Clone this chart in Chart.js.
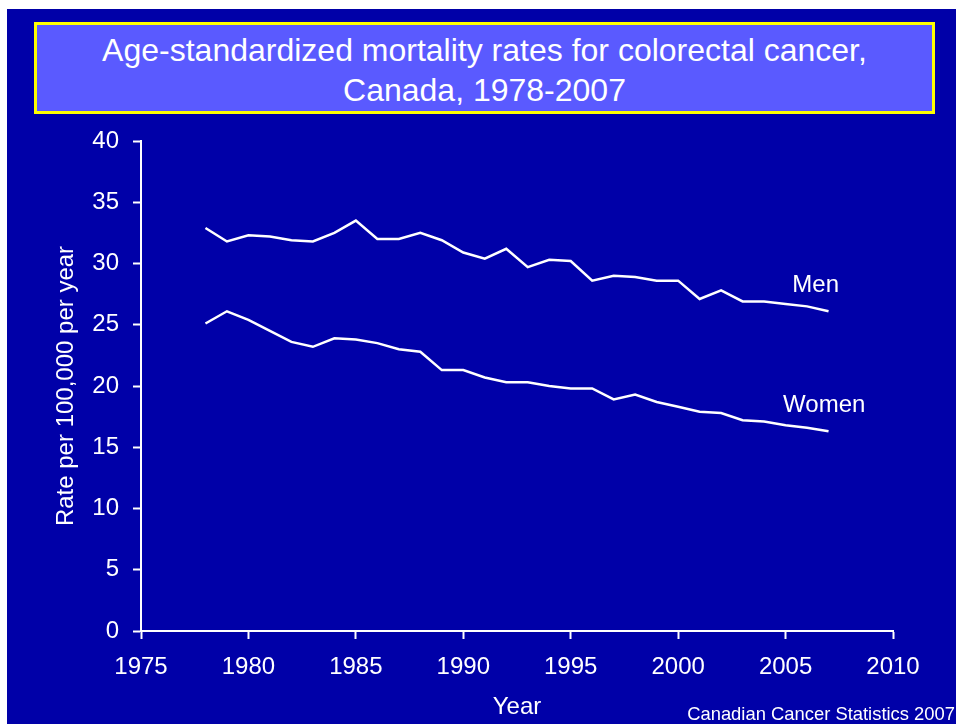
<!DOCTYPE html>
<html>
<head>
<meta charset="utf-8">
<script src="https://cdn.jsdelivr.net/npm/chart.js@4/dist/chart.umd.min.js"></script>
<style>
  html, body { margin: 0; padding: 0; background: #fff; }
  body { width: 956px; height: 724px; position: relative; overflow: hidden; font-family: "Liberation Sans", Arial, sans-serif; }
  #bg { position: absolute; left: 7px; top: 9px; right: 0; bottom: 0; background: #0000A8; }
  #chart { position: absolute; left: 0; top: 0; }
  #title {
    position: absolute; left: 34px; top: 22px; width: 895px; height: 81px;
    background: #5A5AFF; border: 3px solid #FFFF00;
    color: #fff; font-size: 32px; line-height: 40px; text-align: center;
    padding-top: 5px; box-sizing: content-box;
  }
  #credit { position: absolute; right: 1px; top: 703px; color: #fff; font-size: 18.4px; }
</style>
</head>
<body>
<div id="bg"></div>
<canvas id="chart" width="956" height="724"></canvas>
<div id="title">Age-standardized mortality rates for colorectal cancer,<br>Canada, 1978-2007</div>
<div id="credit">Canadian Cancer Statistics 2007</div>
<script>
// values
const years = [1978, 1979, 1980, 1981, 1982, 1983, 1984, 1985, 1986, 1987,
  1988, 1989, 1990, 1991, 1992, 1993, 1994, 1995, 1996, 1997,
  1998, 1999, 2000, 2001, 2002, 2003, 2004, 2005, 2006, 2007]
const men = [32.9, 31.8, 32.3, 32.2, 31.9, 31.8, 32.5, 33.5, 32.0, 32.0,
  32.5, 31.9, 30.9, 30.4, 31.2, 29.7, 30.3, 30.2, 28.6, 29.0,
  28.9, 28.6, 28.6, 27.1, 27.8, 26.9, 26.9, 26.7, 26.5, 26.1]
const women = [25.1, 26.1, 25.4, 24.5, 23.6, 23.2, 23.9, 23.8, 23.5, 23.0,
  22.8, 21.3, 21.3, 20.7, 20.3, 20.3, 20.0, 19.8, 19.8, 18.9,
  19.3, 18.7, 18.3, 17.9, 17.8, 17.2, 17.1, 16.8, 16.6, 16.3]
const xTicks = [1975, 1980, 1985, 1990, 1995, 2000, 2005, 2010]
const yTicks = [0, 5, 10, 15, 20, 25, 30, 35, 40]
const seriesLabels = [
  { text: 'Men', x: 2006.4, y: 28.2 },
  { text: 'Women', x: 2006.8, y: 18.4 }
]

const font = '"Liberation Sans", Arial, sans-serif'

const seriesText = {
  id: 'seriesText',
  afterDatasetsDraw(chart) {
    const { ctx, scales } = chart
    ctx.save()
    ctx.fillStyle = '#fff'
    ctx.font = '24px ' + font
    ctx.textAlign = 'center'
    ctx.textBaseline = 'middle'
    seriesLabels.forEach(l => {
      ctx.fillText(l.text, scales.x.getPixelForValue(l.x), scales.y.getPixelForValue(l.y))
    })
    ctx.restore()
  }
}

const line = (label, vals) => ({
  label: label,
  data: years.map((y, i) => ({ x: y, y: vals[i] })),
  borderColor: '#fff',
  borderWidth: 2.5,
  pointRadius: 0,
  tension: 0,
  fill: false
})

new Chart(document.getElementById('chart'), {
  type: 'line',
  data: { datasets: [line('Men', men), line('Women', women)] },
  options: {
    responsive: false,
    animation: false,
    layout: { padding: { left: 0, top: 141, right: 63, bottom: 0 } },
    plugins: { legend: { display: false }, tooltip: { enabled: false } },
    scales: {
      x: {
        type: 'linear',
        min: 1975, max: 2010,
        afterBuildTicks: s => { s.ticks = xTicks.map(v => ({ value: v })) },
        afterFit: s => { s.height = 93 },
        ticks: { color: '#fff', font: { family: font, size: 24 }, padding: 14, maxRotation: 0, callback: v => String(v) },
        grid: { drawOnChartArea: false, color: '#fff', tickLength: 8, tickWidth: 2 },
        border: { color: '#fff', width: 2 },
        title: { display: true, text: 'Year', color: '#fff', font: { family: font, size: 24 }, padding: { top: 0, bottom: 2 } }
      },
      y: {
        min: 0, max: 40,
        afterBuildTicks: s => { s.ticks = yTicks.map(v => ({ value: v })) },
        afterFit: s => { s.width = 141 },
        ticks: { color: '#fff', font: { family: font, size: 24 }, padding: 14 },
        grid: { drawOnChartArea: false, color: '#fff', tickLength: 8, tickWidth: 2 },
        border: { color: '#fff', width: 2 },
        title: { display: true, text: 'Rate per 100,000 per year', color: '#fff', font: { family: font, size: 24 }, padding: { top: 52, bottom: 0 } }
      }
    }
  },
  plugins: [seriesText]
})
</script>
</body>
</html>
